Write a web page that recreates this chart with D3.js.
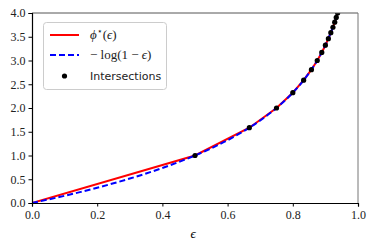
<!DOCTYPE html>
<html><head><meta charset="utf-8">
<script src="https://cdn.jsdelivr.net/npm/d3@7"></script>
<style>body{margin:0;background:#fff}svg{display:block}
.serif{font-family:'DejaVu Serif',serif}
.lserif{font-family:'Liberation Serif',serif}
</style>
</head><body><svg id="c" width="374" height="248"></svg>
<script>
// phi*(eps): piecewise linear through intersection points
const phiEps = [0, 0.5, 0.6667, 0.75, 0.8, 0.8333, 0.8571, 0.875, 0.8889, 0.9, 0.9091, 0.9167, 0.9231, 0.9286, 0.9333, 0.9375, 0.9412];
const phiVal = [0, 1.0, 1.585, 2.0, 2.322, 2.585, 2.807, 3.0, 3.170, 3.322, 3.459, 3.585, 3.700, 3.807, 3.907, 4.0, 4.087];
// -log(1-eps) curve
const logEps = [0, 0.05, 0.1, 0.15, 0.2, 0.25, 0.3, 0.35, 0.4, 0.45, 0.5, 0.55, 0.6, 0.65, 0.7, 0.75, 0.78, 0.8, 0.82, 0.84, 0.86, 0.88, 0.9, 0.91, 0.92, 0.93, 0.94, 0.95];
const logVal = [0, 0.074, 0.152, 0.234, 0.322, 0.415, 0.515, 0.621, 0.737, 0.862, 1.0, 1.152, 1.322, 1.515, 1.737, 2.0, 2.184, 2.322, 2.474, 2.644, 2.837, 3.059, 3.322, 3.474, 3.644, 3.837, 4.059, 4.322];
// intersections
const intEps = [0.5, 0.6667, 0.75, 0.8, 0.8333, 0.8571, 0.875, 0.8889, 0.9, 0.9091, 0.9167, 0.9231, 0.9286, 0.9333, 0.9375];
const intVal = [1.0, 1.585, 2.0, 2.322, 2.585, 2.807, 3.0, 3.170, 3.322, 3.459, 3.585, 3.700, 3.807, 3.907, 4.0];
const xTicks = [0, 0.2, 0.4, 0.6, 0.8, 1.0];
const yTicks = [0, 0.5, 1.0, 1.5, 2.0, 2.5, 3.0, 3.5, 4.0];

const L = 32, R = 358, T = 13, B = 203;
const svg = d3.select('#c');
const x = d3.scaleLinear().domain([0, 1]).range([L, R]);
const y = d3.scaleLinear().domain([0, 4]).range([B, T]);

svg.append('defs').append('clipPath').attr('id', 'clip')
  .append('rect').attr('x', L).attr('y', T).attr('width', R - L).attr('height', B - T);

const g = svg.append('g').attr('clip-path', 'url(#clip)');
const line = d3.line().x(d => x(d[0])).y(d => y(d[1]));
g.append('path').datum(phiEps.map((e, i) => [e, phiVal[i]]))
  .attr('d', line).attr('fill', 'none').attr('stroke', '#ff0000').attr('stroke-width', 2);
g.append('path').datum(logEps.map((e, i) => [e, logVal[i]]))
  .attr('d', d3.line().curve(d3.curveMonotoneX).x(d => x(d[0])).y(d => y(d[1])))
  .attr('fill', 'none').attr('stroke', '#0000ff').attr('stroke-width', 2).attr('stroke-dasharray', '6,3');
g.selectAll('circle').data(intEps.map((e, i) => [e, intVal[i]])).enter().append('circle')
  .attr('cx', d => x(d[0])).attr('cy', d => y(d[1])).attr('r', 2.6).attr('fill', '#000');

// frame
svg.append('line').attr('x1', L).attr('x2', R).attr('y1', T).attr('y2', T).attr('stroke', '#555').attr('stroke-width', 1);
svg.append('line').attr('x1', R).attr('x2', R).attr('y1', T).attr('y2', B).attr('stroke', '#777').attr('stroke-width', 1);

const xa = svg.append('g').attr('transform', `translate(0,${B})`)
  .call(d3.axisBottom(x).tickValues(xTicks).tickFormat(d3.format('.1f')).tickSize(3.5).tickPadding(4));
const ya = svg.append('g').attr('transform', `translate(${L},0)`)
  .call(d3.axisLeft(y).tickValues(yTicks).tickFormat(d3.format('.1f')).tickSize(3.5).tickPadding(3));
[xa, ya].forEach(a => {
  a.attr('font-family', null).attr('font-size', null);
  a.select('.domain').attr('stroke', '#000').attr('stroke-width', 1.2);
  a.selectAll('.tick line').attr('stroke', '#000');
  a.selectAll('.tick text').attr('class', 'lserif').style('font-size', '12px').attr('fill', '#222');
});

svg.append('text').attr('class', 'lserif').attr('x', (L + R) / 2 - 2).attr('y', 238).attr('text-anchor', 'middle')
  .style('font-style', 'italic').style('font-size', '13px').text('ϵ');

// legend
const lg = svg.append('g');
lg.append('rect').attr('x', 43.5).attr('y', 22.5).attr('width', 123).attr('height', 67).attr('rx', 3)
  .attr('fill', '#fff').attr('fill-opacity', 0.8).attr('stroke', '#ccc');
lg.append('line').attr('x1', 50).attr('x2', 79).attr('y1', 35).attr('y2', 35).attr('stroke', '#ff0000').attr('stroke-width', 2);
lg.append('line').attr('x1', 50).attr('x2', 79).attr('y1', 55).attr('y2', 55).attr('stroke', '#0000ff').attr('stroke-width', 2).attr('stroke-dasharray', '6,3');
lg.append('circle').attr('cx', 64.5).attr('cy', 76).attr('r', 2.6).attr('fill', '#000');

const t1 = lg.append('text').attr('class', 'lserif').attr('x', 90).attr('y', 39).style('font-size', '13px').attr('fill', '#222');
t1.append('tspan').style('font-style', 'italic').text('ϕ');
t1.append('tspan').style('font-size', '9px').attr('dy', -5).text('⋆');
t1.append('tspan').attr('dy', 5).text('(');
t1.append('tspan').style('font-style', 'italic').text('ϵ');
t1.append('tspan').text(')');

const t2 = lg.append('text').attr('class', 'lserif').attr('x', 90).attr('y', 59).style('font-size', '13px').attr('fill', '#222');
t2.append('tspan').text('− log(1 − ');
t2.append('tspan').style('font-style', 'italic').text('ϵ');
t2.append('tspan').text(')');

lg.append('text').attr('x', 90).attr('y', 80).style('font-family', "'DejaVu Sans', sans-serif").style('font-size', '11px')
  .attr('fill', '#222').text('Intersections');
</script></body></html>
